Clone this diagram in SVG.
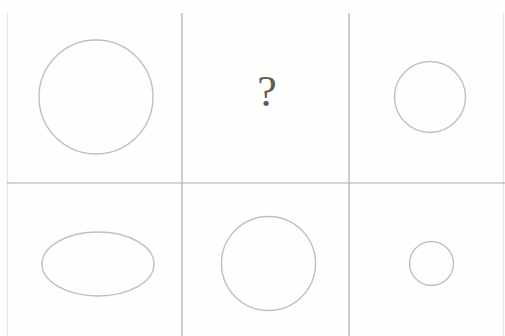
<svg xmlns="http://www.w3.org/2000/svg" width="505" height="336" viewBox="0 0 505 336">
<style>
.grid{stroke:#ababab;stroke-width:1.2;fill:none}
.border{stroke:#e6e6e6;stroke-width:1.2;fill:none}
.shape{stroke:#c0c0c0;stroke-width:1.4;fill:none}
.q{font-family:"Liberation Serif","Times New Roman",serif;font-size:44px;fill:#615954;text-anchor:middle}
</style>
<rect width="505" height="336" fill="#fefefd"/>
<g id="connectors">
<line class="border" x1="7.5" y1="13" x2="7.5" y2="336"/>
<line class="border" x1="503.5" y1="13" x2="503.5" y2="336"/>
<line class="grid" x1="182" y1="13" x2="182" y2="336"/>
<line class="grid" x1="349" y1="13" x2="349" y2="336"/>
<line class="grid" x1="7" y1="183" x2="505" y2="183"/>
</g>
<g id="cell1"><circle class="shape" cx="96" cy="97" r="57"/></g>
<g id="cell2"><text class="q" x="267" y="106">?</text></g>
<g id="cell3"><circle class="shape" cx="430" cy="97" r="35.5"/></g>
<g id="cell4"><ellipse class="shape" cx="98" cy="264" rx="56" ry="32"/></g>
<g id="cell5"><circle class="shape" cx="268.5" cy="263.5" r="47"/></g>
<g id="cell6"><circle class="shape" cx="431.5" cy="263.5" r="22"/></g>
</svg>
